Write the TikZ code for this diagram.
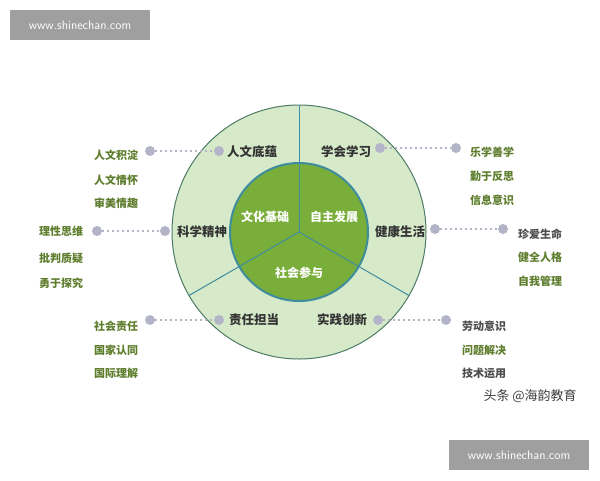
\documentclass[tikz,border=0pt]{standalone}
\usepackage{fontspec}
\usetikzlibrary{calc}
\newfontfamily\cjk{Noto Sans CJK SC}
\begin{document}
\begin{tikzpicture}[x=1pt,y=-1pt,
 ring/.style={font=\cjk\fontsize{12.5}{13}\selectfont\bfseries,text=black!80},
 inner/.style={font=\cjk\fontsize{12}{13}\selectfont\bfseries,text=white},
 item/.style={font=\cjk\fontsize{11}{12}\selectfont\bfseries,text=itemg},
 itemd/.style={font=\cjk\fontsize{11}{12}\selectfont\bfseries,text=black!70},
 dot/.style={circle,fill=dotc,inner sep=0pt,minimum size=10pt},
 link/.style={dotc,line width=2pt,dash pattern=on 2pt off 3pt},
 wm/.style={fill=gray!75,text=white,font=\sffamily\fontsize{12.5}{13}\selectfont,minimum width=140pt,minimum height=30pt}]
\definecolor{itemg}{HTML}{5E7E2E}
\definecolor{dotc}{HTML}{B4B4C8}
\definecolor{outerf}{HTML}{D6E9C9}
\definecolor{outerd}{HTML}{4C7C66}
\definecolor{innerf}{HTML}{7AAE3A}
\definecolor{divc}{HTML}{3F8C9E}
\useasboundingbox (0,0) rectangle (600,480);
\fill[white] (0,0) rectangle (600,480);
\coordinate (c) at (299,232);
\draw[outerd,fill=outerf,line width=1pt] (c) circle[radius=127];
\foreach \a in {270,30,150}
  \draw[divc,line width=1pt] ($(c)+(\a:69)$) -- ($(c)+(\a:127)$);
\draw[divc,fill=innerf,line width=2pt] (c) circle[radius=69];
\foreach \a in {270,30,150}
  \draw[divc,line width=1pt] (c) -- ($(c)+(\a:69)$);
\node[inner] (i1) at (265,217) {文化基础};
\node[inner] (i2) at (334,217) {自主发展};
\node[inner] (i3) at (299,273) {社会参与};
\node[ring] (r1) at (252,152) {人文底蕴};
\node[ring] (r2) at (346,152) {学会学习};
\node[ring] (r3) at (202,232) {科学精神};
\node[ring] (r4) at (400,232) {健康生活};
\node[ring] (r5) at (254,320) {责任担当};
\node[ring] (r6) at (342,320) {实践创新};
\node[dot] (a1) at (150,151) {}; \node[dot] (b1) at (219,151) {};
\node[dot] (a3) at (97,231) {};  \node[dot] (b3) at (165,231) {};
\node[dot] (a5) at (150,320) {}; \node[dot] (b5) at (219,320) {};
\node[dot] (a2) at (380,148) {}; \node[dot] (b2) at (456,148) {};
\node[dot] (a4) at (435,229) {}; \node[dot] (b4) at (503,229) {};
\node[dot] (a6) at (378,320) {}; \node[dot] (b6) at (446,320) {};
\foreach \i in {1,...,6} \draw[link] (a\i) -- (b\i);
\node[item] (l11) at (116,155) {人文积淀};
\node[item] (l12) at (116,180) {人文情怀};
\node[item] (l13) at (116,203) {审美情趣};
\node[item] (l21) at (61,231) {理性思维};
\node[item] (l22) at (61,258) {批判质疑};
\node[item] (l23) at (61,283) {勇于探究};
\node[item] (l31) at (116,326) {社会责任};
\node[item] (l32) at (116,350) {国家认同};
\node[item] (l33) at (116,373) {国际理解};
\node[item] (m11) at (492,152) {乐学善学};
\node[item] (m12) at (492,176) {勤于反思};
\node[item] (m13) at (492,200) {信息意识};
\node[itemd] (m21) at (540,234) {珍爱生命};
\node[item] (m22) at (540,257) {健全人格};
\node[item] (m23) at (540,281) {自我管理};
\node[itemd] (m31) at (484,326) {劳动意识};
\node[item] (m32) at (484,350) {问题解决};
\node[itemd] (m33) at (484,373) {技术运用};
\node[font=\cjk\fontsize{13}{14}\selectfont,text=black!75,anchor=west] (tt) at (480,396) {头条 @海韵教育};
\node[wm] (w1) at (80,25) {www.shinechan.com};
\node[wm] (w2) at (519,455) {www.shinechan.com};
\end{tikzpicture}
\end{document}
